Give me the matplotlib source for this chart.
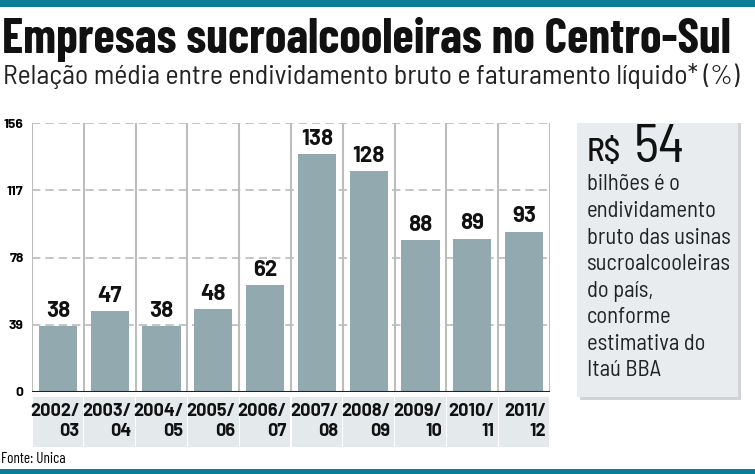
import matplotlib
matplotlib.use("Agg")
import matplotlib.pyplot as plt
from matplotlib.patches import Rectangle

categories = ["2002/\n03", "2003/\n04", "2004/\n05", "2005/\n06", "2006/\n07",
              "2007/\n08", "2008/\n09", "2009/\n10", "2010/\n11", "2011/\n12"]
values = [38, 47, 38, 48, 62, 138, 128, 88, 89, 93]
yticks = [0, 39, 78, 117, 156]

W, H = 755, 474
fig = plt.figure(figsize=(W/100, H/100), dpi=100)
fig.patch.set_facecolor("white")

TEAL = "#0a7d99"
BAR = "#93a9b0"
cond = ["Barlow Condensed", "DejaVu Sans"]
semi = ["Barlow Semi Condensed", "DejaVu Sans"]
barlow = ["Barlow", "DejaVu Sans"]

def fx(px): return px / W
def fy(py): return 1 - py / H

fig.add_artist(Rectangle((0, fy(7)), 1, 7/H, transform=fig.transFigure, color=TEAL, lw=0))
fig.add_artist(Rectangle((0, 0), 1, 5/H, transform=fig.transFigure, color=TEAL, lw=0))

fig.text(fx(2), fy(39), "Empresas sucroalcooleiras no Centro-Sul", fontsize=35,
         fontweight="bold", family=cond, va="center", ha="left", color="#111111")
fig.text(fx(3), fy(76), "Relação média entre endividamento bruto e faturamento líquido* (%)",
         fontsize=20, fontweight="normal", family=semi, va="center", ha="left", color="#222222")

ax = fig.add_axes([fx(32), fy(392), fx(550) - fx(32), fy(123) - fy(392)])
x = list(range(len(values)))
ax.set_xlim(-0.5, len(values) - 0.5)
ax.set_ylim(0, 156)
for yv in yticks[1:]:
    ax.axhline(yv, color="#bbbbbb", lw=1.2, ls=(0, (5, 3)), zorder=1)
for b in range(len(values) + 1):
    ax.axvline(b - 0.5, color="#bdbdbd", lw=1.5, zorder=1)
ax.bar(x, values, width=0.74, color=BAR, zorder=2)
for xi, v in zip(x, values):
    ax.text(xi, v + 3, str(v), ha="center", va="bottom", fontsize=16, fontweight="bold",
            family=barlow, color="#111111", zorder=3)
ax.axhline(0, color="#222222", lw=1.5, zorder=3)
ax.set_yticks(yticks)
ax.set_yticklabels([str(t) for t in yticks], fontsize=10, fontweight="bold", family=barlow)
ax.tick_params(axis="y", length=0, pad=6)
ax.set_xticks([])
for s in ax.spines.values():
    s.set_visible(False)

for xi, c in zip(x, categories):
    ax.add_patch(Rectangle((xi - 0.49, -3), 0.98, -29, transform=ax.transData,
                           clip_on=False, color="#e4e9eb", lw=0))
    ax.text(xi + 0.42, -6.5, c, ha="right", va="top", fontsize=13, fontweight="bold",
            family=barlow, linespacing=1.25, clip_on=False, color="#111111")

fig.text(fx(1), fy(459), "Fonte: Unica", fontsize=11, family=cond, va="center", ha="left")

fig.add_artist(Rectangle((fx(580), fy(400)), fx(161), 277/H, transform=fig.transFigure,
                         color="#cfd3d6", lw=0))
fig.add_artist(Rectangle((fx(577), fy(397)), fx(161), 274/H, transform=fig.transFigure,
                         color="#e8ecee", lw=0))
fig.text(fx(587), fy(152), "R$", fontsize=24, family=semi, fontweight="medium",
         va="center", ha="left", color="#111111")
fig.text(fx(634), fy(148), "54", fontsize=39, family=semi, fontweight="normal",
         va="center", ha="left", color="#111111")
box_lines = ["bilhões é o", "endividamento", "bruto das usinas", "sucroalcooleiras",
             "do país,", "conforme", "estimativa do", "Itaú BBA"]
for i, l in enumerate(box_lines):
    fig.text(fx(587), fy(185 + i * 26.5), l, fontsize=16.2, family=semi, va="center",
             ha="left", color="#222222")

fig.savefig("out.png", dpi=100, facecolor="white")
